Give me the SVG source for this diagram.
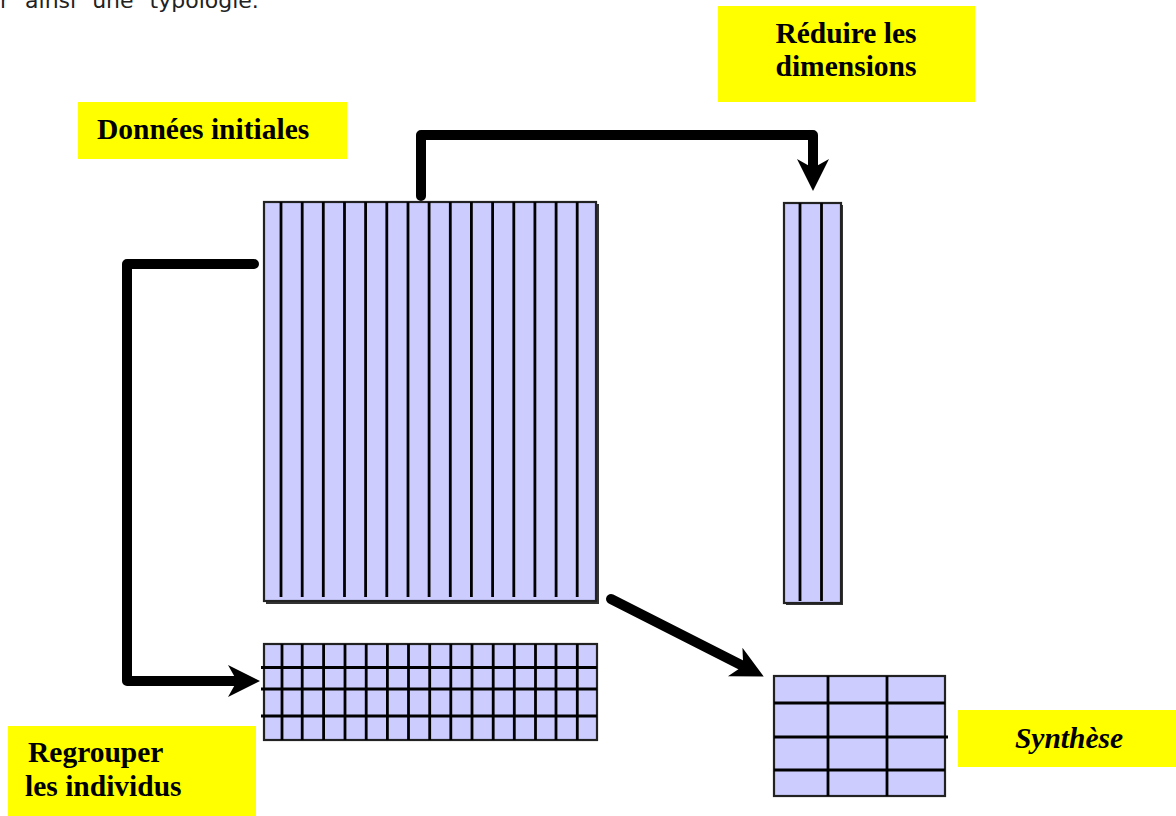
<svg xmlns="http://www.w3.org/2000/svg" width="1176" height="816" viewBox="0 0 1176 816">
<defs>
<style>
.lbl{fill:#ffff00;stroke:none}
.t{font-family:"Liberation Serif","Times New Roman",serif;font-weight:bold;font-size:29.5px;fill:#000}
.cell{fill:#ccccff;stroke:#222;stroke-width:2.2}
.shadow{fill:#333;stroke:none}
.grid{stroke:#000;stroke-width:2.8;fill:none}
.conn{fill:none;stroke:#000;stroke-width:10;stroke-linecap:round;stroke-linejoin:round}
</style>
<marker id="head" markerUnits="userSpaceOnUse" markerWidth="34" markerHeight="34" viewBox="0 0 34 34" refX="11" refY="16" orient="auto">
<path d="M32,16 L0,0 L9,16 L0,32 Z" fill="#000"/>
</marker>
</defs>
<rect width="1176" height="816" fill="#fff"/>
<text x="0" y="8" font-family="DejaVu Sans, Verdana, sans-serif" font-size="22" fill="#222" word-spacing="9">r ainsi une typologie.</text>

<g id="donnees-initiales">
<rect class="shadow" x="266" y="204" width="333" height="400"/>
<rect class="cell" x="264" y="202" width="332" height="399"/>
<path class="grid" d="M281,202V597M302.2,202V597M323.3,202V597M344.5,202V597M365.6,202V597M386.8,202V597M408,202V597M429.1,202V597M450.3,202V597M471.4,202V597M492.6,202V597M513.8,202V597M534.9,202V597M556.1,202V597M577.2,202V597"/>
</g>

<g id="reduit">
<rect class="shadow" x="786" y="205" width="57" height="400"/>
<rect class="cell" x="784" y="203" width="57" height="400"/>
<path class="grid" d="M800,203V601M821.5,203V601"/>
</g>

<g id="regroupe">
<rect class="cell" x="264" y="644" width="333" height="96"/>
<path class="grid" d="M282,644V740M302.2,644V740M323.6,644V740M345,644V740M366.2,644V740M387.4,644V740M408.5,644V740M429.7,644V740M450.8,644V740M472,644V740M493.2,644V740M514.3,644V740M535.5,644V740M556,644V740M577.3,644V740M261,667.5H597M261,689H597M261,716H597"/>
</g>

<g id="synthese-grid">
<rect class="cell" x="774" y="676" width="171" height="120"/>
<path class="grid" d="M774,703H945M774,737H948M774,770H945M828,676V796M887,676V796"/>
</g>

<g id="label-donnees">
<rect class="lbl" x="78" y="102" width="269" height="57"/>
<text class="t" x="97" y="139">Données initiales</text>
</g>
<g id="label-reduire">
<rect class="lbl" x="718" y="6" width="257" height="96"/>
<text class="t" x="846" y="43" text-anchor="middle">Réduire les</text>
<text class="t" x="846" y="76" text-anchor="middle">dimensions</text>
</g>
<g id="label-regrouper">
<rect class="lbl" x="8" y="726" width="248" height="90"/>
<text class="t" x="28" y="762">Regrouper</text>
<text class="t" x="25" y="796">les individus</text>
</g>
<g id="label-synthese">
<rect class="lbl" x="958" y="710" width="218" height="57"/>
<text class="t" x="1069" y="748" text-anchor="middle" font-style="italic">Synthèse</text>
</g>

<g id="connectors">
<path class="conn" d="M421,196V135H813V170" marker-end="url(#head)"/>
<path class="conn" d="M254,264H127V681H239" marker-end="url(#head)"/>
<path class="conn" d="M611,599L745,667" marker-end="url(#head)"/>
</g>
</svg>
